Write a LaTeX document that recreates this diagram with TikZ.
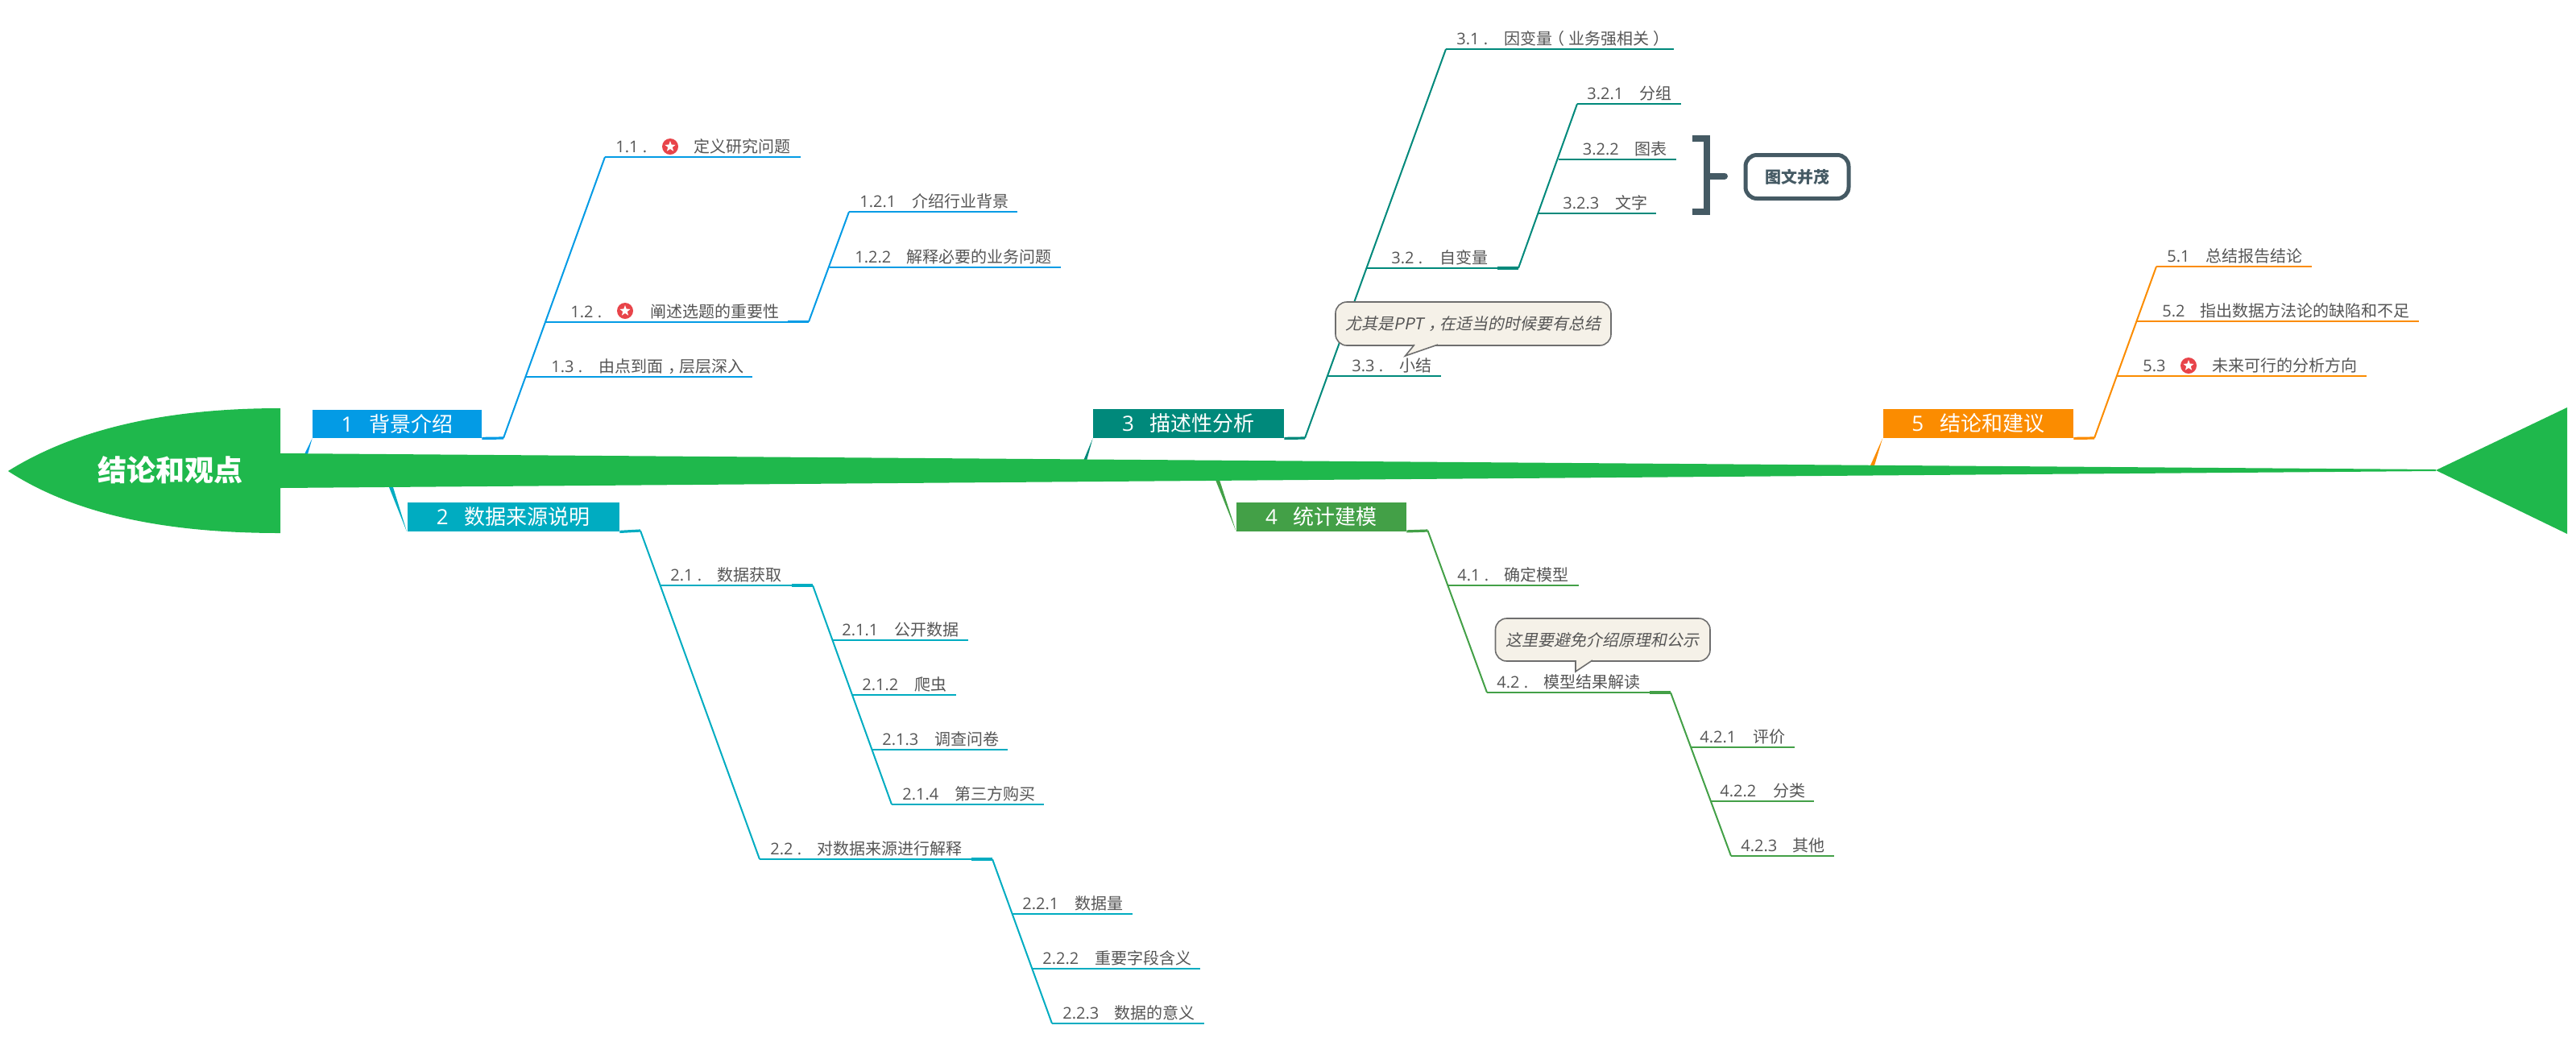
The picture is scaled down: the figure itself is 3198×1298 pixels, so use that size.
\documentclass[tikz,border=0pt]{standalone}
\usepackage{fontspec}
\usetikzlibrary{shapes.geometric}
\setmainfont{Open Sans}
\newfontfamily\cjk{Noto Sans CJK SC}
\newfontfamily\cjkslant[FakeSlant=0.2]{Noto Sans CJK SC}
\definecolor{tA}{HTML}{039BE5}
\definecolor{tB}{HTML}{00ACC1}
\definecolor{tC}{HTML}{00897B}
\definecolor{tD}{HTML}{43A047}
\definecolor{tE}{HTML}{FB8C00}
\definecolor{spinegreen}{HTML}{1FB84C}
\definecolor{labelgrey}{HTML}{555555}
\definecolor{notefill}{HTML}{F5F1E8}
\definecolor{noteline}{HTML}{6E6E6E}
\definecolor{slate}{HTML}{455A64}
\definecolor{starred}{HTML}{E8444A}
\newlength\pxu
\setlength\pxu{0.5pt}
\tikzset{
  lbl/.style={inner sep=0pt,text=labelgrey,font=\fontsize{10}{12}\selectfont,anchor=base west},
  topicbox/.style={inner sep=0pt,text=white,font=\fontsize{13}{15}\selectfont},
  leafline/.style={line width=1pt},
  trunk/.style={line width=1pt},
  kink/.style={line width=1.6pt},
  notebox/.style={draw=noteline,fill=notefill,line width=0.8pt,rounded corners=7pt,inner sep=0pt,text=labelgrey,font=\fontsize{10}{12}\selectfont},
  notetip/.style={draw=noteline,line width=0.8pt},
  staricon/.style={circle,fill=starred,minimum size=10pt,inner sep=0pt},
  starshape/.style={star,star points=5,star point ratio=2.4,fill=white,minimum size=7pt,inner sep=0pt}
}
% name, colour, x1, x2, y, text x, gap to Chinese, number, Chinese
\newcommand\leaf[9]{%
  \coordinate (#1-s) at (#3,#5);
  \coordinate (#1-e) at (#4,#5);
  \draw[leafline,#2] (#1-s) -- (#1-e);
  \node[lbl] (#1) at ({#6},{#5-5.5}) {\makebox[#7\pxu][l]{#8}{\cjk #9}};
}
% name, x1, y1, x2, y2, colour, number, gap, Chinese
\newcommand\topic[9]{%
  \node[topicbox,fill=#6,minimum width={(#4-#2)*0.5pt},minimum height={(#5-#3)*0.5pt}] (#1) at ({(#2+#4)/2},{(#3+#5)/2}) {#7\hspace{#8\pxu}{\cjk #9}};
}
\newcommand\staron[3]{%
  \node[staricon] (#1) at (#2,#3) {};
  \node[starshape] (#1-w) at (#2,#3) {};
}
\newcommand\midcomma{\kern6\pxu ，\kern-6\pxu}
\begin{document}
\begin{tikzpicture}[x=0.5pt,y=-0.5pt]
\path[use as bounding box] (0,0) rectangle (3198,1298);

% topic boxes
\topic{bA}{388}{509}{598}{544}{tA}{1}{20}{背景介绍}
\topic{bB}{505.5}{624}{769}{660}{tB}{2}{20}{数据来源说明}
\topic{bC}{1357}{508}{1594}{544}{tC}{3}{20}{描述性分析}
\topic{bD}{1535}{624}{1746}{659.5}{tD}{4}{20}{统计建模}
\topic{bE}{2337.5}{508}{2574}{544}{tE}{5}{20}{结论和建议}

% tapered joints to the spine
\coordinate (sAa) at (378,564); \coordinate (sAb) at (382,564);
\coordinate (sBa) at (483,605); \coordinate (sBb) at (488,605);
\coordinate (sCa) at (1345,572); \coordinate (sCb) at (1349,572);
\coordinate (sDa) at (1509,596); \coordinate (sDb) at (1514,596);
\coordinate (sEa) at (2322,578); \coordinate (sEb) at (2327,578);
\fill[tA] (bA.south west) -- (sAa) -- (sAb) -- cycle;
\fill[tB] (bB.south west) -- (sBa) -- (sBb) -- cycle;
\fill[tC] (bC.south west) -- (sCa) -- (sCb) -- cycle;
\fill[tD] (bD.south west) -- (sDa) -- (sDb) -- cycle;
\fill[tE] (bE.south west) -- (sEa) -- (sEb) -- cycle;

% spine, head, tail
\coordinate (tailtip) at (3024,584);
\fill[spinegreen] (348,563) -- (3024,583) -- (3024,585) -- (348,606) -- cycle;
\fill[spinegreen] (348,507) .. controls (200,507) and (90,535) .. (10,585) .. controls (90,637) and (200,662) .. (348,662) -- cycle;
\fill[spinegreen] (tailtip) -- (3187,506) -- (3187,663) -- cycle;
\node[inner sep=0pt,text=white,font=\fontsize{18}{20}\selectfont\bfseries] (head) at (211,584) {\cjk 结论和观点};

% leaves, branch 1
\leaf{lAa}{tA}{751}{994}{195}{764}{97}{1.1 .}{定义研究问题}
\staron{stAa}{832}{182}
\leaf{lAb}{tA}{677}{1004}{399.5}{708}{99}{1.2 .}{阐述选题的重要性}
\staron{stAb}{776}{386}
\leaf{lAba}{tA}{1054}{1263}{263}{1067}{65}{1.2.1}{介绍行业背景}
\leaf{lAbb}{tA}{1030}{1317}{332}{1061}{64}{1.2.2}{解释必要的业务问题}
\leaf{lAc}{tA}{653}{934}{467.5}{684}{59}{1.3 .}{由点到面\midcomma 层层深入}
% branch 2
\leaf{lBa}{tB}{819}{1009}{727}{832}{58}{2.1 .}{数据获取}
\leaf{lBaa}{tB}{1034}{1202}{795}{1045}{65}{2.1.1}{公开数据}
\leaf{lBab}{tB}{1058}{1187}{863}{1070}{65}{2.1.2}{爬虫}
\leaf{lBac}{tB}{1083}{1251}{931}{1095}{65}{2.1.3}{调查问卷}
\leaf{lBad}{tB}{1107}{1296}{999}{1120}{65}{2.1.4}{第三方购买}
\leaf{lBb}{tB}{943}{1232}{1067}{956}{58}{2.2 .}{对数据来源进行解释}
\leaf{lBba}{tB}{1257}{1406}{1135}{1269}{65}{2.2.1}{数据量}
\leaf{lBbb}{tB}{1282}{1490}{1203}{1294}{65}{2.2.2}{重要字段含义}
\leaf{lBbc}{tB}{1306}{1495}{1271}{1319}{64}{2.2.3}{数据的意义}
% branch 3
\leaf{lCa}{tC}{1795}{2078}{61}{1808}{59}{3.1 .}{因变量\kern-5\pxu （\kern5\pxu 业务强相关\kern5\pxu ）\kern-5\pxu}
\leaf{lCb}{tC}{1697}{1885}{333}{1727}{60}{3.2 .}{自变量}
\leaf{lCba}{tC}{1958}{2087}{129}{1970}{65}{3.2.1}{分组}
\leaf{lCbb}{tC}{1935}{2081}{197.5}{1964.5}{65}{3.2.2}{图表}
\leaf{lCbc}{tC}{1909}{2056}{265}{1940}{65}{3.2.3}{文字}
\leaf{lCc}{tC}{1649}{1789}{467}{1678}{59}{3.3 .}{小结}
% branch 4
\leaf{lDa}{tD}{1797}{1960}{726.5}{1809}{58}{4.1 .}{确定模型}
\leaf{lDb}{tD}{1846}{2074}{860}{1858}{58}{4.2 .}{模型结果解读}
\leaf{lDba}{tD}{2099}{2228}{927.5}{2110}{66}{4.2.1}{评价}
\leaf{lDbb}{tD}{2124}{2252}{995}{2135}{66}{4.2.2}{分类}
\leaf{lDbc}{tD}{2149}{2277}{1063}{2161}{64}{4.2.3}{其他}
% branch 5
\leaf{lEa}{tE}{2677}{2870}{331}{2690}{48}{5.1}{总结报告结论}
\leaf{lEb}{tE}{2653}{3003}{399}{2684}{47.5}{5.2}{指出数据方法论的缺陷和不足}
\leaf{lEc}{tE}{2629}{2938}{467}{2660}{86}{5.3}{未来可行的分析方向}
\staron{stEc}{2717}{454}

% forks and trunks
\coordinate (fA) at (625,544);
\coordinate (fB) at (795,659);
\coordinate (fC) at (1620,544);
\coordinate (fD) at (1772.5,659);
\coordinate (fE) at (2600,544);
\draw[kink,tA] (bA.south east) -- (fA);
\draw[kink,tB] (bB.south east) -- (fB);
\draw[kink,tC] (bC.south east) -- (fC);
\draw[kink,tD] (bD.south east) -- (fD);
\draw[kink,tE] (bE.south east) -- (fE);
\draw[trunk,tA] (fA) -- (lAa-s);
\draw[trunk,tB] (fB) -- (lBb-s);
\draw[trunk,tC] (fC) -- (lCa-s);
\draw[trunk,tD] (fD) -- (lDb-s);
\draw[trunk,tE] (fE) -- (lEa-s);
\coordinate (kAb) at (978,399.5);
\coordinate (kBa) at (983,727);
\coordinate (kBb) at (1206,1067);
\coordinate (kCb) at (1859,333);
\coordinate (kDb) at (2048,860);
\draw[kink,tA] (kAb) -- (lAb-e);
\draw[kink,tB] (kBa) -- (lBa-e);
\draw[kink,tB] (kBb) -- (lBb-e);
\draw[kink,tC] (kCb) -- (lCb-e);
\draw[kink,tD] (kDb) -- (lDb-e);
\draw[trunk,tA] (lAb-e) -- (lAba-s);
\draw[trunk,tB] (lBa-e) -- (lBad-s);
\draw[trunk,tB] (lBb-e) -- (lBbc-s);
\draw[trunk,tC] (lCb-e) -- (lCba-s);
\draw[trunk,tD] (lDb-e) -- (lDbc-s);

% callouts
\node[notebox,minimum width=171pt,minimum height=27pt] (noteC) at (1829,402) {\cjkslant 尤其是PPT\midcomma 在适当的时候要有总结};
\coordinate (noteCa) at (1756,428); \coordinate (noteCt) at (1744.5,442); \coordinate (noteCb) at (1785,428);
\fill[notefill] (noteCa) -- (noteCt) -- (noteCb) -- cycle;
\draw[notetip] (noteCa) -- (noteCt) -- (noteCb);
\node[notebox,minimum width=133.25pt,minimum height=26.5pt] (noteD) at (1989.75,794.5) {\cjkslant 这里要避免介绍原理和公示};
\coordinate (noteDa) at (1956,820); \coordinate (noteDt) at (1956,834); \coordinate (noteDb) at (1977,820);
\fill[notefill] (noteDa) -- (noteDt) -- (noteDb) -- cycle;
\draw[notetip] (noteDa) -- (noteDt) -- (noteDb);

% summary bracket
\coordinate (brT) at (2101,172); \coordinate (brTr) at (2119,172);
\coordinate (brB) at (2101,263); \coordinate (brBr) at (2119,263);
\coordinate (brM) at (2119,218.5); \coordinate (brS) at (2141,218.5);
\draw[slate,line width=4pt,line join=miter] (brT) -- (brTr) -- (brBr) -- (brB);
\draw[slate,line width=4pt,line cap=round] (brM) -- (brS);
\node[draw=slate,fill=white,line width=2.5pt,rounded corners=7pt,minimum width=64pt,minimum height=27pt,inner sep=0pt,text=slate,font=\fontsize{10}{12}\selectfont\bfseries] (sumbox) at (2231,219.5) {\cjk 图文并茂};
\end{tikzpicture}
\end{document}
